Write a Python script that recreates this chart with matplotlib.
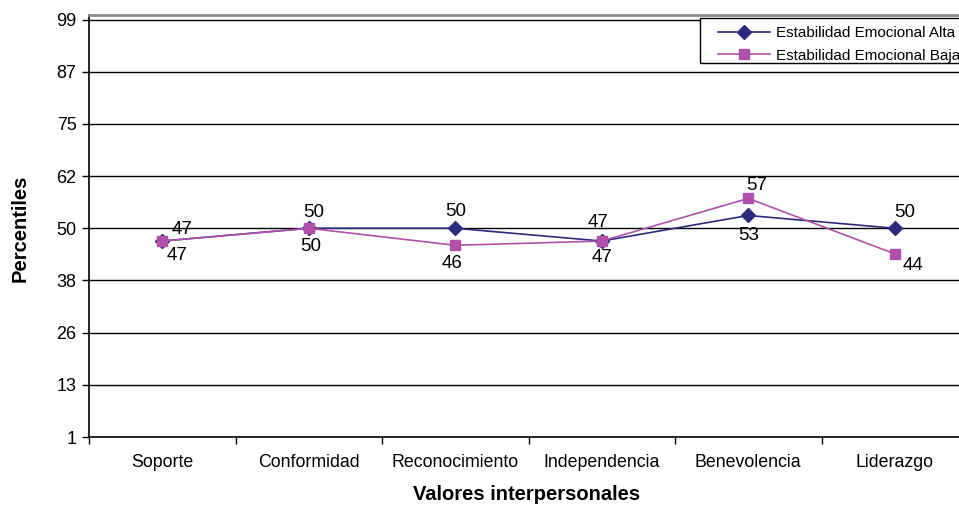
import matplotlib
matplotlib.use("Agg")
import matplotlib.pyplot as plt
from matplotlib.patches import Rectangle
import numpy as np

plt.rcParams['font.family'] = ['Liberation Sans', 'DejaVu Sans']

# values per interpersonal scale
categories = ['Soporte', 'Conformidad', 'Reconocimiento', 'Independencia',
              'Benevolencia', 'Liderazgo']
alta = [47, 50, 50, 47, 53, 50]
baja = [47, 50, 46, 47, 57, 44]
y_ticks = [1, 13.25, 25.5, 37.75, 50, 62.25, 74.5, 86.75, 99]
y_tick_labels = ['1', '13', '26', '38', '50', '62', '75', '87', '99']

# label offsets in pixels (dx, dy) for each point
alta_offsets = [(20, 12), (5, 16), (0, 17), (-4, 19), (0, -20), (10, 16)]
baja_offsets = [(15, -14), (2, -18), (-3, -18), (0, -16), (8, 13), (18, -12)]

navy = '#2B2A7C'
orchid = '#B050AA'

W, H = 959, 507
fig = plt.figure(figsize=(W / 100, H / 100), dpi=100)
ax = fig.add_axes([89 / W, 1 - 437 / H, (968 - 89) / W, (437 - 15) / H])

x = np.arange(len(categories))
ax.plot(x, alta, color=navy, lw=1.2, marker='D', ms=7.5, mfc=navy, mec=navy,
        label='Estabilidad Emocional Alta', zorder=4)
ax.plot(x, baja, color=orchid, lw=1.2, marker='s', ms=7.5, mfc=orchid, mec=orchid,
        label='Estabilidad Emocional Baja', zorder=5)

# value labels
px = 72 / 100
for xi, v, (dx, dy) in zip(x, alta, alta_offsets):
    ax.annotate(str(v), (xi, v), xytext=(dx * px, dy * px), textcoords='offset points',
                ha='center', va='center', fontsize=13.5, color='black', zorder=6)
for xi, v, (dx, dy) in zip(x, baja, baja_offsets):
    ax.annotate(str(v), (xi, v), xytext=(dx * px, dy * px), textcoords='offset points',
                ha='center', va='center', fontsize=13.5, color='black', zorder=6)

ax.set_xlim(-0.5, len(categories) - 0.5)
ax.set_ylim(1, 100.06)

ax.set_yticks(y_ticks)
ax.set_yticklabels(y_tick_labels, fontsize=13)
for yt in y_ticks[1:]:
    ax.axhline(yt, color='black', lw=1, zorder=1)

ax.set_xticks(x)
ax.set_xticklabels(categories, fontsize=12.8)
ax.set_xticks(np.arange(-0.5, len(categories)), minor=True)
ax.tick_params(axis='x', which='major', length=0, pad=12)
ax.tick_params(axis='x', which='minor', length=5, width=1, direction='out')
ax.tick_params(axis='y', length=5, width=1, direction='out', pad=4)

for side in ('left', 'bottom'):
    ax.spines[side].set_color('black')
    ax.spines[side].set_linewidth(1.2)
ax.spines['top'].set_color('#8a8a8a')
ax.spines['top'].set_linewidth(2)
ax.spines['right'].set_color('#8a8a8a')

fig.text(527 / W, 1 - 494 / H, 'Valores interpersonales', ha='center', va='center',
         fontsize=14.5, fontweight='bold')
fig.text(20 / W, 1 - 228 / H, 'Percentiles', ha='center', va='center',
         rotation=90, fontsize=14.5, fontweight='bold')

# legend with a separate frame box
box = Rectangle((700 / W, 1 - 63 / H), 300 / W, 45 / H, transform=fig.transFigure,
                facecolor='white', edgecolor='black', lw=1, zorder=7, clip_on=False)
ax.add_patch(box)
leg = ax.legend(loc='upper left', bbox_to_anchor=(715 / W, 1 - 23 / H),
                bbox_transform=fig.transFigure, frameon=False, fontsize=11,
                handlelength=3.4, handletextpad=0.4, labelspacing=0.56,
                borderpad=0.2, borderaxespad=0)
leg.set_zorder(8)

fig.savefig('out.png', dpi=100)
